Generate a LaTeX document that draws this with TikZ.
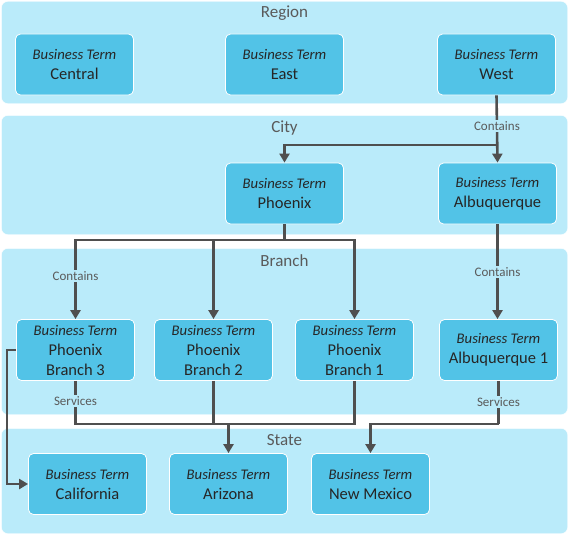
\documentclass[tikz,border=0pt]{standalone}
\usepackage{fontspec}
\setmainfont{Carlito}
\usepackage{tikz}
\usetikzlibrary{arrows.meta}

\definecolor{bandblue}{HTML}{BAEBFA}
\definecolor{termblue}{HTML}{52C3E7}
\definecolor{linegray}{HTML}{4F4F4F}
\definecolor{titlegray}{HTML}{5A5A5A}

\tikzset{
	band/.style={fill=bandblue, draw=white, rounded corners=6pt},
	bandtitle/.style={text=titlegray, font=\fontsize{17}{19}\selectfont, inner sep=0pt},
	term/.style={fill=termblue, draw=white, line width=0.8pt, rounded corners=5pt,
		minimum width=118pt, minimum height=61pt, align=center, inner sep=1pt,
		text=black!85, font=\fontsize{16.5}{20}\selectfont},
	line/.style={draw=linegray, line width=2.6pt},
	link/.style={line, -{Triangle[length=9pt,width=10pt]}},
	lbl/.style={fill=bandblue, text=titlegray, inner sep=1.5pt, font=\fontsize{13}{15}\selectfont}
}
\newcommand{\bterm}{{\fontsize{14.7}{20}\selectfont\itshape Business Term}}

\begin{document}
\begin{tikzpicture}[x=1pt,y=-1pt]
		\useasboundingbox (0,0) rectangle (569,535);
		% bands
		\draw[band] (1.5,1.5) rectangle (567.5,103.5);
		\draw[band] (1.5,115.5) rectangle (567.5,234.5);
		\draw[band] (1.5,248.5) rectangle (567.5,414.5);
		\draw[band] (1.5,428.5) rectangle (567.5,533.5);
		\node[bandtitle] (tregion) at (284.5,13) {Region};
		\node[bandtitle] (tcity) at (284.5,128) {City};
		\node[bandtitle] (tbranch) at (284.5,261) {Branch};
		\node[bandtitle] (tstate) at (284.5,440) {State};
		
		% region
		\node[term] (central) at (74.5,64.5) {\bterm\\Central};
		\node[term] (east) at (284.5,64.5) {\bterm\\East};
		\node[term] (west) at (496.5,64.5) {\bterm\\West};
		
		% city
		\node[term] (phoenix) at (284.5,193.5) {\bterm\\Phoenix};
		\node[term] (albq) at (497.5,193.5) {\bterm\\Albuquerque};
		
		% branch
		\node[term] (br3) at (75.5,350) {\bterm\\Phoenix\\Branch 3};
		\node[term] (br2) at (213.5,350) {\bterm\\Phoenix\\Branch 2};
		\node[term] (br1) at (354.5,350) {\bterm\\Phoenix\\Branch 1};
		\node[term] (albq1) at (498.5,350) {\bterm\\Albuquerque 1};
		
		% state
		\node[term] (calif) at (87.5,484) {\bterm\\California};
		\node[term] (arizona) at (228.5,484) {\bterm\\Arizona};
		\node[term] (nmex) at (370.5,484) {\bterm\\New Mexico};
		
		% contains
		\coordinate (wsplit) at (496.5,145);
		\draw[link] (west.south) -- (albq.north) node[lbl, pos=0.46] {Contains};
		\draw[link] (wsplit) -| (phoenix.north);
		\coordinate (psplit) at (284.5,240);
		\draw[line] (phoenix.south) -- (psplit);
		\draw[link] (psplit) -| (br3.north) node[lbl, pos=0.725] {Contains};
		\draw[link] (psplit) -| (br2.north);
		\draw[link] (psplit) -| (br1.north);
		\draw[link] (albq.south) -- (albq.south |- albq1.north) node[lbl, pos=0.5] {Contains};
		
		% services
		\coordinate (sjoin) at (228.5,424);
		\draw[line] (br3.south) |- (sjoin) node[lbl, pos=0.23] {Services};
		\draw[line] (br2.south) |- (sjoin);
		\draw[line] (br1.south) |- (sjoin);
		\draw[link] (sjoin) -- (arizona.north);
		\draw[link] (br3.west) -- ++(-9,0) |- (calif.west);
		\coordinate (ajoin) at (albq1.south |- sjoin);
		\draw[line] (albq1.south) -- (ajoin) node[lbl, pos=0.5] {Services};
		\draw[link] (ajoin) -| (nmex.north);
\end{tikzpicture}
\end{document}
